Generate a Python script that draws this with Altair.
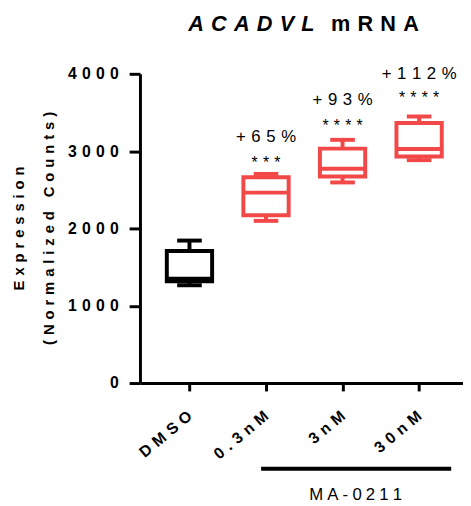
import altair as alt
import pandas as pd

# ---- data ----
groups = ["DMSO", "0.3nM", "3nM", "30nM"]
whisker_low = [1265, 2098, 2595, 2883]
q1 = [1318, 2170, 2671, 2930]
median = [1348, 2463, 2773, 3028]
q3 = [1707, 2662, 3032, 3363]
whisker_high = [1843, 2705, 3146, 3448]
box_colors = ["#000000", "#F24848", "#F24848", "#F24848"]

ann_groups = ["0.3nM", "3nM", "30nM"]
pct_labels = ["+65%", "+93%", "+112%"]
pct_y = [3180, 3655, 4000]
star_labels = ["***", "****", "****"]
star_y = [2848, 3320, 3680]

y_ticks = [0, 1000, 2000, 3000, 4000]

THREE = "\u2004"   # three-per-em space
FOUR = "\u2005"    # four-per-em space


def spaced(s, sep=THREE):
    return sep.join(list(s))


FONT = "Liberation Sans"
W, H = 328, 314

df = pd.DataFrame({
    "group": groups, "wlo": whisker_low, "q1": q1, "med": median,
    "q3": q3, "whi": whisker_high, "color": box_colors,
})
ann = pd.DataFrame({
    "group": ann_groups,
    "pct": [spaced(s, THREE) for s in pct_labels], "pct_y": pct_y,
    "stars": [spaced(s, THREE) for s in star_labels], "star_y": star_y,
})

label_expr = "join(split(datum.label, ''), '" + THREE + "')"

x_enc = alt.X(
    "group:N", sort=groups,
    scale=alt.Scale(type="point", padding=0.61, align=0.53),
    axis=alt.Axis(
        title=None, labelAngle=320, labelAlign="right", labelBaseline="middle",
        labelFont=FONT, labelFontSize=16, labelFontWeight="bold", labelColor="black",
        labelPadding=23, labelExpr=label_expr,
        tickSize=8, tickWidth=3, tickColor="black",
        domainWidth=3, domainColor="black", grid=False,
    ),
)
y_scale = alt.Scale(domain=[0, 4000], nice=False)
y_axis = alt.Axis(
    title=None, values=y_ticks, format="d",
    labelFont=FONT, labelFontSize=16, labelFontWeight="bold", labelColor="black",
    labelPadding=11, labelExpr=label_expr,
    tickSize=11, tickWidth=3, tickColor="black",
    domainWidth=3, domainColor="black", grid=False,
)

base = alt.Chart(df)
stroke = alt.Stroke("color:N", scale=None)
fillc = alt.Color("color:N", scale=None)
xg = alt.X("group:N", sort=groups)

box = base.mark_bar(size=46, strokeWidth=4, fillOpacity=0, strokeOpacity=1).encode(
    x=x_enc, y=alt.Y("q1:Q", scale=y_scale, axis=y_axis), y2="q3:Q", stroke=stroke)
w_up = base.mark_rule(strokeWidth=4, opacity=1).encode(
    x=xg, y="q3:Q", y2="whi:Q", stroke=stroke)
w_lo = base.mark_rule(strokeWidth=4, opacity=1).encode(
    x=xg, y="wlo:Q", y2="q1:Q", stroke=stroke)
cap_up = base.mark_tick(size=25, thickness=4, opacity=1).encode(
    x=xg, y="whi:Q", color=fillc)
cap_lo = base.mark_tick(size=25, thickness=4, opacity=1).encode(
    x=xg, y="wlo:Q", color=fillc)
med = base.mark_tick(size=46, thickness=4, opacity=1).encode(
    x=xg, y="med:Q", color=fillc)

pct_text = alt.Chart(ann).mark_text(font=FONT, fontSize=17, color="black", baseline="middle").encode(
    x=xg, y="pct_y:Q", text="pct:N")
star_text = alt.Chart(ann).mark_text(font=FONT, fontSize=16, color="black", baseline="middle").encode(
    x=xg, y="star_y:Q", text="stars:N")

# title pieces
t1 = alt.Chart(pd.DataFrame({"t": [spaced("ACADVL")]})).mark_text(
    font=FONT, fontSize=22, fontWeight="bold", fontStyle="italic", align="left",
    baseline="middle", color="black").encode(x=alt.value(49), y=alt.value(-50), text="t:N")
t2 = alt.Chart(pd.DataFrame({"t": [spaced("mRNA")]})).mark_text(
    font=FONT, fontSize=22, fontWeight="bold", align="left",
    baseline="middle", color="black").encode(x=alt.value(194), y=alt.value(-50), text="t:N")

# y axis title (two lines)
yt1 = alt.Chart(pd.DataFrame({"t": [spaced("Expression")]})).mark_text(
    font=FONT, fontSize=15, fontWeight="bold", angle=270, align="center",
    baseline="middle", color="black").encode(x=alt.value(-123), y=alt.value(157), text="t:N")
yt2 = alt.Chart(pd.DataFrame({"t": [spaced("(Normalized Counts)")]})).mark_text(
    font=FONT, fontSize=15, fontWeight="bold", angle=270, align="center",
    baseline="middle", color="black").encode(x=alt.value(-92), y=alt.value(157), text="t:N")

# MA-0211 bracket
bar_line = alt.Chart(pd.DataFrame({"a": [0]})).mark_rule(strokeWidth=4, color="black").encode(
    x=alt.value(123), x2=alt.value(316), y=alt.value(401))
ma_text = alt.Chart(pd.DataFrame({"t": [spaced("MA-0211", FOUR)]})).mark_text(
    font=FONT, fontSize=17, align="center", baseline="middle", color="black").encode(
    x=alt.value(219), y=alt.value(428), text="t:N")

chart = alt.layer(
    box, w_up, w_lo, cap_up, cap_lo, med, pct_text, star_text,
    t1, t2, yt1, yt2, bar_line, ma_text,
).properties(
    width=W, height=H,
    padding={"left": 134, "top": 63, "right": 0, "bottom": 120},
    autosize=alt.AutoSizeParams(type="none"),
).configure_view(stroke=None)

chart.save("out.html", embed_options={"renderer": "svg", "actions": False})
